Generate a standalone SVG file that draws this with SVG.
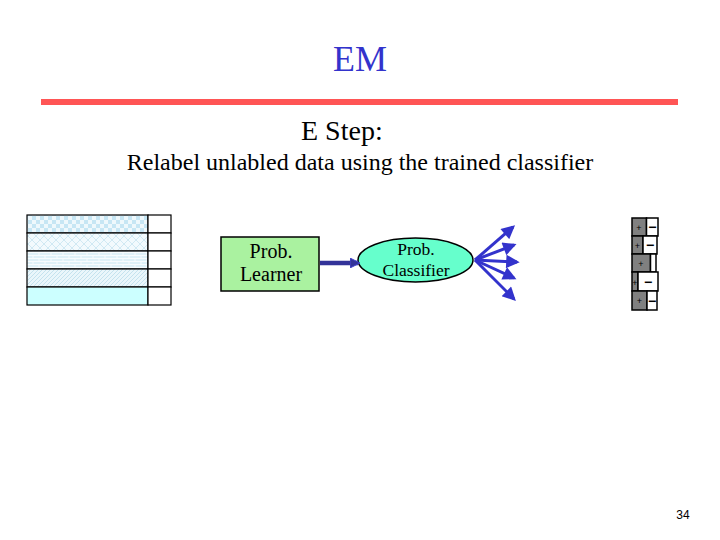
<svg xmlns="http://www.w3.org/2000/svg" width="720" height="540" viewBox="0 0 720 540">
<defs>
<style>
.cell{stroke:#000;stroke-width:1.2;}
.pm{stroke:#000;stroke-width:1.5;}
.fan{stroke:#3333cc;stroke-width:3;fill:none;marker-end:url(#ah);}
</style>
<marker id="ah" viewBox="0 0 10 10" refX="8" refY="5" markerWidth="5" markerHeight="4.5" orient="auto" markerUnits="strokeWidth">
<path d="M0,0 L10,5 L0,10 z" fill="#3333cc"/>
</marker>
<marker id="ah2" viewBox="0 0 10 10" refX="8" refY="5" markerWidth="2.2" markerHeight="2.2" orient="auto" markerUnits="strokeWidth">
<path d="M0,0 L10,5 L0,10 z" fill="#333399" stroke="#4444cc" stroke-width="1"/>
</marker>
<pattern id="p1" width="8" height="8" patternUnits="userSpaceOnUse">
<rect width="8" height="8" fill="#eef8fc"/>
<rect width="4" height="4" fill="#c6e6f4"/>
<rect x="4" y="4" width="4" height="4" fill="#c6e6f4"/>
</pattern>
<pattern id="p2" width="8" height="8" patternUnits="userSpaceOnUse">
<rect width="8" height="8" fill="#f2fafd"/>
<path d="M0,0 L8,8 M8,0 L0,8" stroke="#c8e4f0" stroke-width="0.8"/>
</pattern>
<pattern id="p3" width="12" height="6" patternUnits="userSpaceOnUse">
<rect width="12" height="6" fill="#dff1f8"/>
<path d="M0,0.5 H12 M0,3.5 H12 M3,0 V3 M9,3 V6" stroke="#f8fcfe" stroke-width="1"/>
</pattern>
<pattern id="p4" width="4" height="4" patternUnits="userSpaceOnUse">
<rect width="4" height="4" fill="#eaf6fb"/>
<path d="M-1,1 L1,-1 M0,4 L4,0 M3,5 L5,3" stroke="#c4e2ee" stroke-width="1"/>
</pattern>
</defs>
<rect width="720" height="540" fill="#fff"/>
<g id="title" font-family="Liberation Serif, Times New Roman, serif">
<text x="360" y="71" font-size="36" fill="#3333cc" text-anchor="middle">EM</text>
<rect x="41" y="99" width="637" height="6" fill="#ff5555"/>
<text x="301" y="140" font-size="28" fill="#000">E Step:</text>
<text x="360" y="170" font-size="24" fill="#000" text-anchor="middle">Relabel unlabled data using the trained classifier</text>
</g>
<g id="data-table">
<rect class="cell" x="27" y="215" width="121" height="18" fill="url(#p1)"/>
<rect class="cell" x="27" y="233" width="121" height="18" fill="url(#p2)"/>
<rect class="cell" x="27" y="251" width="121" height="18" fill="url(#p3)"/>
<rect class="cell" x="27" y="269" width="121" height="18" fill="url(#p4)"/>
<rect class="cell" x="27" y="287" width="121" height="18" fill="#ccffff"/>
<rect class="cell" x="148" y="215" width="23" height="18" fill="#fff"/>
<rect class="cell" x="148" y="233" width="23" height="18" fill="#fff"/>
<rect class="cell" x="148" y="251" width="23" height="18" fill="#fff"/>
<rect class="cell" x="148" y="269" width="23" height="18" fill="#fff"/>
<rect class="cell" x="148" y="287" width="23" height="18" fill="#fff"/>
</g>
<g id="learner" font-family="Liberation Serif, Times New Roman, serif">
<rect x="221" y="237" width="98" height="54" fill="#aaf2a0" stroke="#000" stroke-width="1.5"/>
<text x="271" y="258" font-size="20" text-anchor="middle">Prob.</text>
<text x="271" y="281" font-size="20" text-anchor="middle">Learner</text>
</g>
<g id="classifier" font-family="Liberation Serif, Times New Roman, serif">
<ellipse cx="415.5" cy="260" rx="57.5" ry="22" fill="#66ffcc" stroke="#000" stroke-width="1.5"/>
<text x="416" y="255" font-size="17.5" text-anchor="middle">Prob.</text>
<text x="416" y="276" font-size="17.5" text-anchor="middle">Classifier</text>
</g>
<g id="connectors">
<line x1="320" y1="263" x2="358" y2="263" stroke="#333399" stroke-width="4.5" marker-end="url(#ah2)"/>
<line class="fan" x1="475" y1="260" x2="513" y2="227"/>
<line class="fan" x1="475" y1="260" x2="514" y2="245"/>
<line class="fan" x1="475" y1="260" x2="517" y2="262"/>
<line class="fan" x1="475" y1="260" x2="514" y2="278"/>
<line class="fan" x1="475" y1="260" x2="514" y2="299"/>
</g>
<g id="labels">
<rect class="pm" x="632" y="218" width="14.5" height="18" fill="#808080"/>
<rect class="pm" x="646.5" y="218" width="11.5" height="18" fill="#fff"/>
<rect class="pm" x="632" y="236" width="11" height="18" fill="#808080"/>
<rect class="pm" x="643" y="236" width="14" height="18" fill="#fff"/>
<rect class="pm" x="632" y="254" width="18.5" height="18" fill="#808080"/>
<rect class="pm" x="650.5" y="254" width="5.5" height="18" fill="#fff"/>
<rect class="pm" x="632" y="272" width="6" height="19" fill="#808080"/>
<rect class="pm" x="638" y="272" width="20" height="19" fill="#fff"/>
<rect class="pm" x="632" y="291" width="15" height="19" fill="#808080"/>
<rect class="pm" x="647" y="291" width="10" height="19" fill="#fff"/>
<g font-family="Liberation Sans, Arial, sans-serif" font-size="9" text-anchor="middle">
<text x="639" y="231">+</text>
<text x="637.5" y="249">+</text>
<text x="641" y="267">+</text>
<text x="635" y="286">+</text>
<text x="639.5" y="304">+</text>
</g>
<g font-family="Liberation Sans, Arial, sans-serif" font-size="14" font-weight="bold" text-anchor="middle">
<text x="652.3" y="232">−</text>
<text x="650" y="250">−</text>
<text x="648" y="287">−</text>
<text x="652" y="306">−</text>
</g>
</g>
<text x="683" y="519" font-family="Liberation Sans, Arial, sans-serif" font-size="12" text-anchor="middle">34</text>
</svg>
